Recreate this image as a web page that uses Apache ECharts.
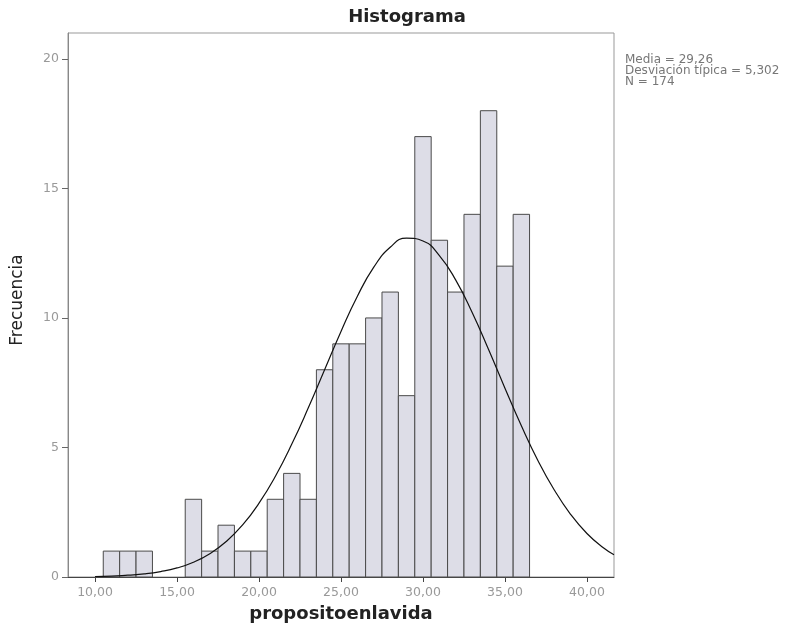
<!DOCTYPE html>
<html>
<head>
<meta charset="utf-8">
<script src="https://cdn.jsdelivr.net/npm/echarts@6/dist/echarts.min.js"></script>
<style>
html,body{margin:0;padding:0;background:#fff;}
#chart{width:809px;height:639px;}
</style>
</head>
<body>
<div id="chart"></div>
<script>
// Histogram bins (center of each 1-unit bin) and frequencies
const binCenters = [11,12,13,14,15,16,17,18,19,20,21,22,23,24,25,26,27,28,29,30,31,32,33,34,35,36];
const counts     = [1, 1, 1, 0, 0, 3, 1, 2, 1, 1, 3, 4, 3, 8, 9, 9, 10,11,7, 17,13,11,14,18,12,14];
const binWidth = 1;

// Normal curve
const curveX = [10,11,12,13,14,15,16,17,18,19,20,21,22,23,24,25,26,27,28,29,30,31,32,33,34,35,36,37,38,39,40,41,41.65];
const curveY = [0.02,0.03,0.07,0.12,0.21,0.35,0.57,0.90,1.37,2.01,2.85,3.89,5.13,6.52,8.00,9.48,10.84,11.96,12.73,13.08,12.97,12.41,11.46,10.21,8.78,7.29,5.84,4.51,3.37,2.42,1.68,1.13,0.86];

const xTicks = [10,15,20,25,30,35,40];
const yTicks = [0,5,10,15,20];

const titleText = 'Histograma';
const xName = 'propositoenlavida';
const yName = 'Frecuencia';
const statsLines = ['Media = 29,26', 'Desviación típica = 5,302', 'N = 174'];

const barData = binCenters.map((c, i) => [c, counts[i]]);
const lineData = curveX.map((x, i) => [x, curveY[i]]);

const chart = echarts.init(document.getElementById('chart'), null, {renderer: 'canvas'});
const font = 'DejaVu Sans';

chart.setOption({
  animation: false,
  backgroundColor: '#ffffff',
  textStyle: {fontFamily: font},
  graphic: [
    {
      type: 'text', x: 407, y: 17,
      style: {text: titleText, fontSize: 18, fontWeight: 'bold', fill: '#222', fontFamily: font,
        align: 'center', verticalAlign: 'middle'}
    },
    {
      type: 'text', x: 18, y: 300, rotation: Math.PI / 2,
      style: {text: yName, fontSize: 17, fill: '#222', fontFamily: font,
        align: 'center', verticalAlign: 'middle'}
    },
    {
      type: 'text', x: 625, y: 54,
      style: {
        text: statsLines.join('\n'),
        fontSize: 12, lineHeight: 11, fill: '#777', fontFamily: font
      }
    }
  ],
  grid: {
    left: 68, top: 33, right: 195, bottom: 62,
    show: true, borderColor: '#999', borderWidth: 1, backgroundColor: 'transparent'
  },
  xAxis: {
    type: 'value', min: 8.35, max: 41.65,
    name: xName, nameLocation: 'middle', nameGap: 28,
    nameTextStyle: {fontSize: 18, fontWeight: 'bold', color: '#222', fontFamily: font},
    axisLine: {show: true, onZero: false, lineStyle: {color: '#444', width: 1}},
    axisTick: {show: true, customValues: xTicks, length: 5, inside: false, lineStyle: {color: '#444'}},
    axisLabel: {customValues: xTicks, margin: 9, fontSize: 12.5, color: '#999', fontFamily: font,
      formatter: v => v.toFixed(2).replace('.', ',')},
    splitLine: {show: false}
  },
  yAxis: {
    type: 'value', min: 0, max: 21,
    axisLine: {show: true, lineStyle: {color: '#888', width: 1}},
    axisTick: {show: true, customValues: yTicks, length: 6, lineStyle: {color: '#666'}},
    axisLabel: {customValues: yTicks, margin: 9, fontSize: 12.5, color: '#999', fontFamily: font},
    splitLine: {show: false}
  },
  series: [
    {
      type: 'custom',
      data: barData,
      renderItem: function (params, api) {
        const c = api.value(0), v = api.value(1);
        if (!v) return null;
        const p0 = api.coord([c - binWidth / 2, v]);
        const p1 = api.coord([c + binWidth / 2, 0]);
        return {
          type: 'rect',
          shape: {x: p0[0], y: p0[1], width: p1[0] - p0[0], height: p1[1] - p0[1]},
          style: {fill: '#dddde7', stroke: '#4a4a4a', lineWidth: 1}
        };
      },
      z: 2
    },
    {
      type: 'line',
      data: lineData,
      smooth: true,
      showSymbol: false,
      lineStyle: {color: '#111', width: 1.2},
      z: 3
    }
  ]
});
</script>
</body>
</html>
